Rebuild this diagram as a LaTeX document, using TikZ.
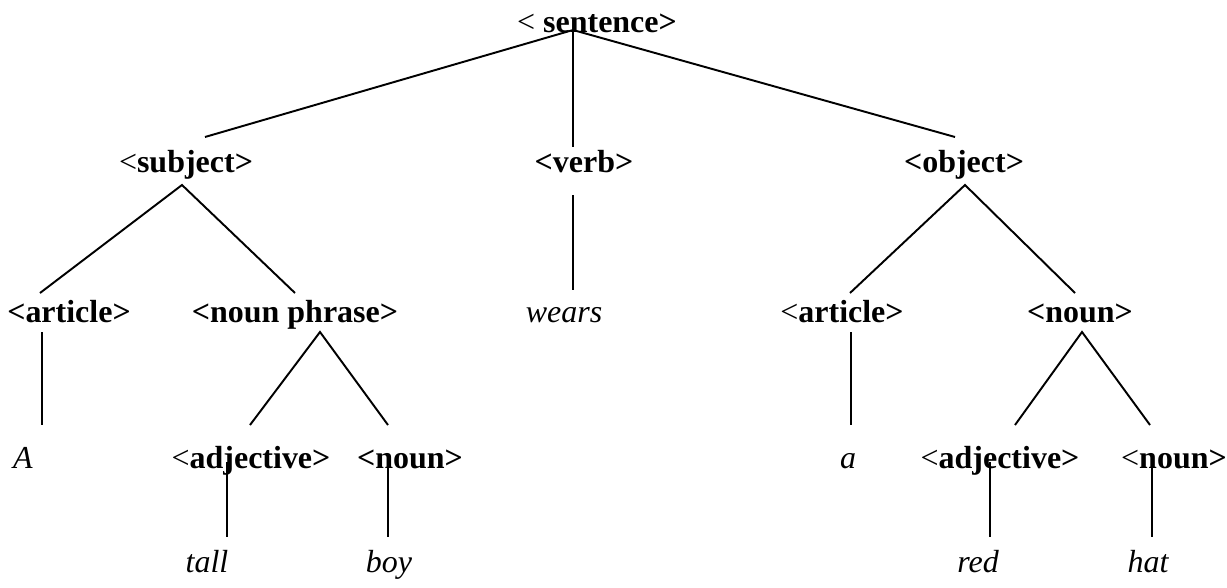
\documentclass[tikz,border=0pt]{standalone}
\usepackage{fontspec}
\setmainfont{Liberation Serif}
\usetikzlibrary{positioning}
\newcommand{\nlt}{\textnormal{<}}

\begin{document}
\begin{tikzpicture}[
  cat/.style={font=\fontsize{18.2}{22}\selectfont\bfseries, anchor=base, inner sep=0pt},
  word/.style={font=\fontsize{18.2}{22}\selectfont\itshape, anchor=base, inner sep=0pt},
  brn/.style={line width=1.1pt, black}
]
  \useasboundingbox (0,0) rectangle (24.54,11.74);
  % Row 1
  \node[cat] (sent) at (11.94,11.08) {\nlt\ sentence>};
  % Row 2
  \node[cat] (subj) at (3.72,8.28) {\nlt subject>};
  \node[cat] (verb) at (11.68,8.28) {<verb>};
  \node[cat] (obj)  at (19.28,8.28) {<object>};
  % Row 3
  \node[cat]  (artl)  at (1.38,5.30)  {<article>};
  \node[cat]  (nph)   at (5.90,5.30)  {<noun phrase>};
  \node[word] (wears) at (11.28,5.30) {wears};
  \node[cat]  (artr)  at (16.84,5.30) {\nlt article>};
  \node[cat]  (nounr) at (21.60,5.30) {<noun>};
  % Row 4
  \node[word] (wA)    at (0.46,2.38)  {A};
  \node[cat]  (adjl)  at (5.02,2.38)  {\nlt adjective>};
  \node[cat]  (nounl) at (8.20,2.38)  {<noun>};
  \node[word] (wa)    at (16.96,2.38) {a};
  \node[cat]  (adjr)  at (20.00,2.38) {\nlt adjective>};
  \node[cat]  (nounh) at (23.48,2.38) {\nlt noun>};
  % Row 5
  \node[word] (wtall) at (4.14,0.30)  {tall};
  \node[word] (wboy)  at (7.78,0.30)  {boy};
  \node[word] (wred)  at (19.56,0.30) {red};
  \node[word] (what)  at (22.96,0.30) {hat};
  % Branch points
  \coordinate (sent-b)  at (11.46,11.14);
  \coordinate (subj-t)  at (4.10,9.00);
  \coordinate (verb-t)  at (11.46,8.80);
  \coordinate (obj-t)   at (19.10,9.00);
  \coordinate (subj-b)  at (3.64,8.04);
  \coordinate (artl-t)  at (0.80,5.88);
  \coordinate (nph-t)   at (5.90,5.88);
  \coordinate (verb-b)  at (11.46,7.84);
  \coordinate (wears-t) at (11.46,5.94);
  \coordinate (obj-b)   at (19.30,8.04);
  \coordinate (artr-t)  at (17.00,5.88);
  \coordinate (nounr-t) at (21.50,5.88);
  \coordinate (artl-b)  at (0.84,5.10);
  \coordinate (wA-t)    at (0.84,3.24);
  \coordinate (nph-b)   at (6.40,5.10);
  \coordinate (adjl-t)  at (5.00,3.24);
  \coordinate (nounl-t) at (7.76,3.24);
  \coordinate (artr-b)  at (17.02,5.10);
  \coordinate (wa-t)    at (17.02,3.24);
  \coordinate (nounr-b) at (21.64,5.10);
  \coordinate (adjr-t)  at (20.30,3.24);
  \coordinate (nounh-t) at (23.00,3.24);
  % Branches
  \draw[brn] (subj-t) -- (sent-b) -- (obj-t);
  \draw[brn] (sent-b) -- (verb-t);
  \draw[brn] (artl-t) -- (subj-b) -- (nph-t);
  \draw[brn] (verb-b) -- (wears-t);
  \draw[brn] (artr-t) -- (obj-b) -- (nounr-t);
  \draw[brn] (artl-b) -- (wA-t);
  \draw[brn] (adjl-t) -- (nph-b) -- (nounl-t);
  \draw[brn] (artr-b) -- (wa-t);
  \draw[brn] (adjr-t) -- (nounr-b) -- (nounh-t);
  % Leaves of the adjective / noun nodes
  \foreach \x in {4.54, 7.76, 19.80, 23.04}
    \draw[brn] (\x,2.50) -- (\x,1.00);
\end{tikzpicture}
\end{document}
